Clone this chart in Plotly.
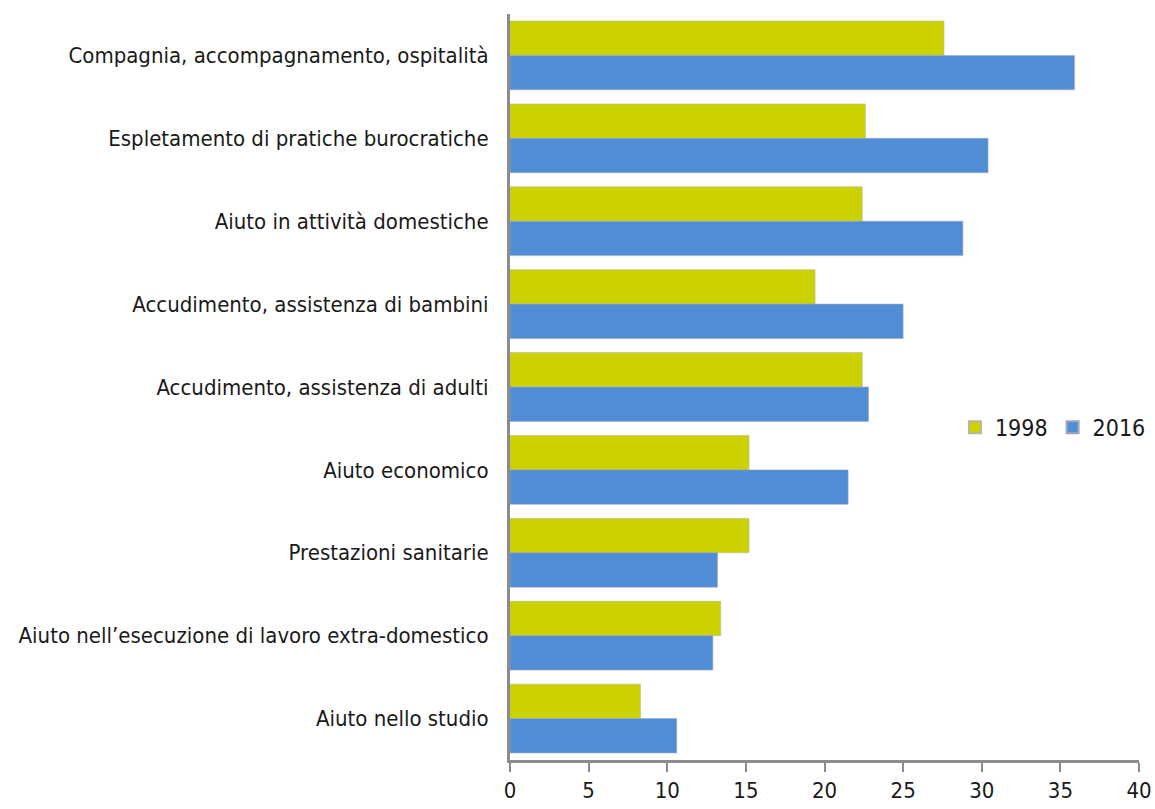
import plotly.graph_objects as go

categories = [
    "Compagnia, accompagnamento, ospitalità",
    "Espletamento di pratiche burocratiche",
    "Aiuto in attività domestiche",
    "Accudimento, assistenza di bambini",
    "Accudimento, assistenza di adulti",
    "Aiuto economico",
    "Prestazioni sanitarie",
    "Aiuto nell’esecuzione di lavoro extra-domestico",
    "Aiuto nello studio",
]
values_1998 = [27.6, 22.6, 22.4, 19.4, 22.4, 15.2, 15.2, 13.4, 8.3]
values_2016 = [35.9, 30.4, 28.8, 25.0, 22.8, 21.5, 13.2, 12.9, 10.6]
x_ticks = [0, 5, 10, 15, 20, 25, 30, 35, 40]

FONT = "Liberation Sans Narrow, DejaVu Sans Condensed, Arial Narrow, sans-serif"

fig = go.Figure()
fig.add_trace(go.Bar(
    y=categories, x=values_1998, name="1998", orientation="h",
    marker=dict(color="#CCD200", line=dict(color="#B8B8A0", width=0.6)),
))
fig.add_trace(go.Bar(
    y=categories, x=values_2016, name="2016", orientation="h",
    marker=dict(color="#518DD6", line=dict(color="#A0A8B8", width=0.6)),
))

fig.update_layout(
    width=1155, height=809,
    margin=dict(l=510, r=16, t=14, b=49, autoexpand=False),
    paper_bgcolor="white", plot_bgcolor="white",
    barmode="group", bargap=0.17, bargroupgap=0,
    font=dict(family=FONT, size=21, color="#1a1a1a"),
    legend=dict(
        x=1.019, y=0.446, xanchor="right", yanchor="middle",
        orientation="h", traceorder="normal",
        font=dict(family=FONT, size=23, color="#1a1a1a"),
        itemwidth=30, itemsizing="constant",
        bgcolor="rgba(0,0,0,0)",
    ),
    showlegend=True,
)
fig.update_xaxes(
    range=[0, 40], tickvals=x_ticks, ticktext=[str(v) for v in x_ticks],
    automargin=False,
    showgrid=False, zeroline=False,
    showline=True, linecolor="#8c8c8c", linewidth=3,
    ticks="outside", ticklen=9, tickwidth=2, tickcolor="#8c8c8c",
    ticklabelstandoff=0,
    tickfont=dict(family=FONT, size=22, color="#1a1a1a"),
)
fig.update_yaxes(
    autorange="reversed", automargin=False,
    showgrid=False, zeroline=False,
    showline=True, linecolor="#8c8c8c", linewidth=3,
    ticks="", ticklabelstandoff=14,
    tickfont=dict(family=FONT, size=22, color="#1a1a1a"),
)

fig.write_html("out.html")
